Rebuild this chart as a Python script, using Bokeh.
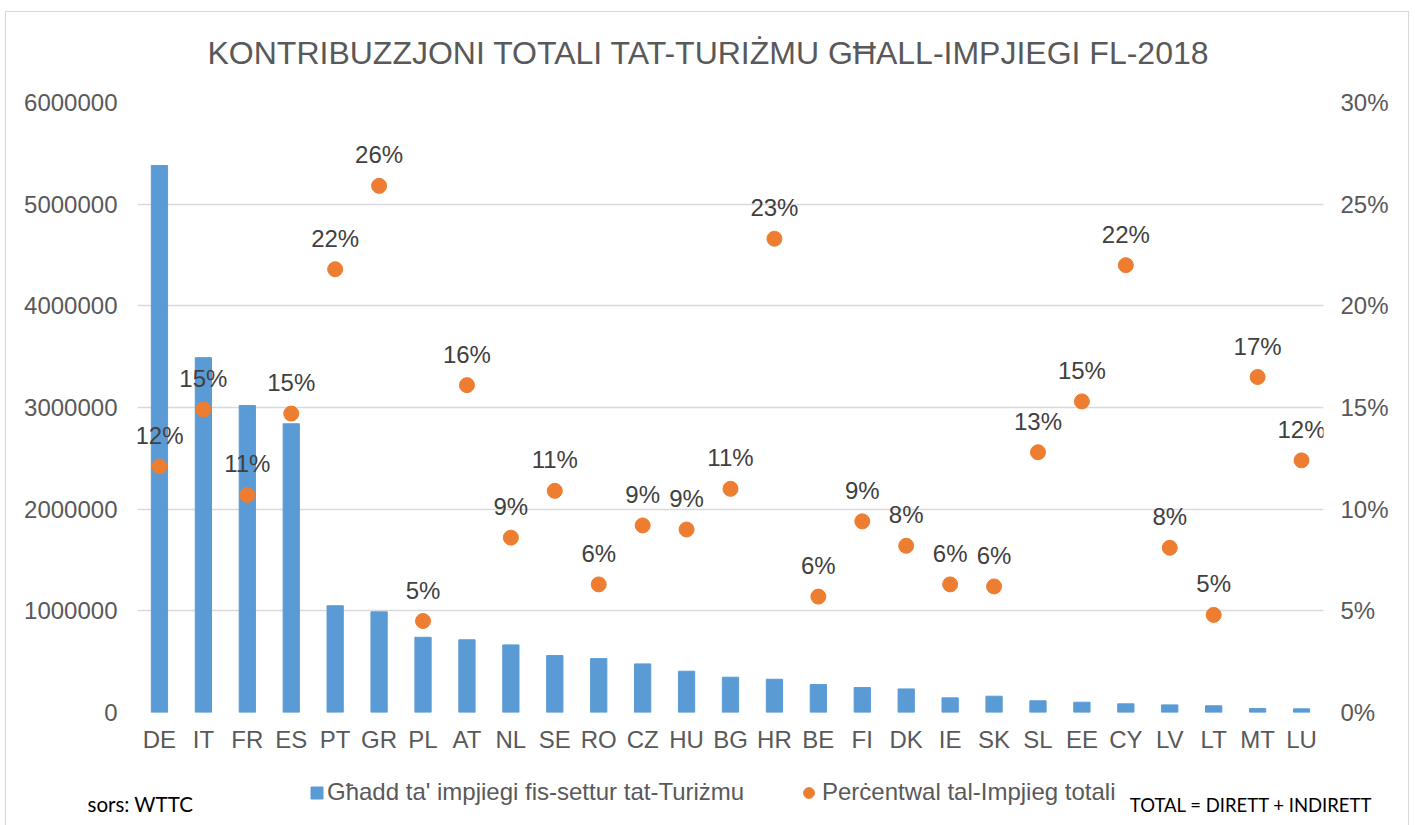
from bokeh.plotting import figure
from bokeh.models import (ColumnDataSource, Range1d, FactorRange, LinearAxis,
                          NumeralTickFormatter, FixedTicker, Legend, LegendItem, Label)
from bokeh.core.properties import value
from bokeh.embed import file_html
from bokeh.resources import INLINE

# ---- data ----
countries = ["DE", "IT", "FR", "ES", "PT", "GR", "PL", "AT", "NL", "SE", "RO", "CZ", "HU", "BG",
             "HR", "BE", "FI", "DK", "IE", "SK", "SL", "EE", "CY", "LV", "LT", "MT", "LU"]
employees = [5380000, 3490000, 3020000, 2840000, 1050000, 990000, 740000, 715000, 665000,
             560000, 530000, 478000, 406000, 347000, 327000, 275000, 245000, 232000, 144000,
             160000, 115000, 101000, 85000, 75000, 66000, 39000, 36000]
pct_total = [12.1, 14.9, 10.7, 14.7, 21.8, 25.9, 4.5, 16.1, 8.6, 10.9, 6.3, 9.2, 9.0, 11.0,
             23.3, 5.7, 9.4, 8.2, 6.3, 6.2, 12.8, 15.3, 22.0, 8.1, 4.8, 16.5, 12.4]
left_ticks = [0, 1000000, 2000000, 3000000, 4000000, 5000000, 6000000]
right_ticks = [0, 5, 10, 15, 20, 25, 30]

title_text = "KONTRIBUZZJONI TOTALI TAT-TURIŻMU GĦALL-IMPJIEGI FL-2018"
bar_label = "Għadd ta' impjiegi fis-settur tat-Turiżmu"
dot_label = "Perċentwal tal-Impjieg totali"
source_text = "sors: WTTC"
note_text = "TOTAL = DIRETT + INDIRETT"

BLUE = "#5B9BD5"
ORANGE = "#ED7D31"
FONT = "Liberation Sans"
GREY = "#595959"
FS = "24px"
EDGE = "#d9d9d9"
LINE = "linear-gradient(%s, %s)" % (EDGE, EDGE)

src = ColumnDataSource(dict(
    cat=countries,
    emp=employees,
    pct=[v / 100 for v in pct_total],
    lbl=["%d%%" % int(v + 0.5) for v in pct_total],
))

W = 1404                   # chart box spans page x 5 .. 1409
H_MAIN, H_FOOT = 770, 55

# ---------------- main chart ----------------
p = figure(width=W, height=H_MAIN, x_range=FactorRange(factors=countries),
           y_range=Range1d(left_ticks[0], left_ticks[-1]),
           output_backend="svg", toolbar_location=None,
           min_border_left=132, min_border_right=86, min_border_top=101, min_border_bottom=58)
p.margin = (0, 0, 0, 5)
p.border_fill_alpha = 0
p.styles = {"background": "%s 0 11px / 100%% 1px no-repeat, %s 0 11px / 1px 100%% no-repeat, "
                          "%s 100%% 11px / 1px 100%% no-repeat" % (LINE, LINE, LINE)}
p.extra_y_ranges = {"pct": Range1d(right_ticks[0] / 100, right_ticks[-1] / 100)}
p.outline_line_color = None

p.title.text = title_text
p.title.align = "left"
p.title.offset = 70
p.title.standoff = 64
p.title.text_font = FONT
p.title.text_font_size = "32px"
p.title.text_font_style = "normal"
p.title.text_color = GREY

p.xgrid.grid_line_color = None
p.ygrid.grid_line_color = EDGE
p.ygrid.grid_line_width = 1.5

p.yaxis[0].ticker = FixedTicker(ticks=left_ticks)
p.yaxis[0].formatter = NumeralTickFormatter(format="0")
p.yaxis[0].major_label_standoff = 14

right_axis = LinearAxis(y_range_name="pct", ticker=FixedTicker(ticks=[t / 100 for t in right_ticks]),
                        formatter=NumeralTickFormatter(format="0%"))
right_axis.major_label_standoff = 11
p.add_layout(right_axis, "right")

p.xaxis[0].major_label_standoff = 7

for ax in [p.yaxis[0], right_axis, p.xaxis[0]]:
    ax.axis_line_color = None
    ax.major_tick_line_color = None
    ax.minor_tick_line_color = None
    ax.major_label_text_font = FONT
    ax.major_label_text_font_size = FS
    ax.major_label_text_color = GREY

p.vbar(x="cat", top="emp", width=0.37, source=src, color=BLUE)
p.scatter(x="cat", y="pct", y_range_name="pct", size=15, color=ORANGE, source=src)
p.text(x="cat", y="pct", text="lbl", y_range_name="pct", y_offset=-31, source=src,
       text_align="center", text_baseline="middle", text_font=value(FONT),
       text_font_size=FS, text_color="#404040")

# ---------------- footer: legend + notes ----------------
# the same series against a range far above them, so they stay out of view and only feed the legend
f = figure(width=W, height=H_FOOT, x_range=FactorRange(factors=countries), y_range=Range1d(1e7, 2e7),
           output_backend="svg", toolbar_location=None, x_axis_type=None, y_axis_type=None,
           min_border=0)
f.margin = (0, 0, 0, 5)
f.border_fill_alpha = 0
f.background_fill_alpha = 0
f.styles = {"background": "%s 0 0 / 1px 100%% no-repeat, %s 100%% 0 / 1px 100%% no-repeat"
                          % (LINE, LINE)}
f.outline_line_color = None
f.xgrid.grid_line_color = None
f.ygrid.grid_line_color = None
leg_bar = f.vbar(x="cat", top="emp", width=0.37, source=src, color=BLUE)
leg_dot = f.scatter(x="cat", y="pct", size=15, source=src, color=ORANGE)

common = dict(orientation="horizontal", border_line_color=None, background_fill_alpha=0,
              label_text_font=FONT, label_text_font_size=FS, label_text_color=GREY,
              padding=0, margin=0, label_height=27)
leg1 = Legend(items=[LegendItem(label=bar_label, renderers=[leg_bar])],
              location=(304, 19), glyph_width=15, glyph_height=15, label_standoff=3, **common)
leg2 = Legend(items=[LegendItem(label=dot_label, renderers=[leg_dot])],
              location=(790, 19), glyph_width=27, glyph_height=27, label_standoff=0, **common)
f.add_layout(leg1, "center")
f.add_layout(leg2, "center")

f.add_layout(Label(x=82, y=22, x_units="screen", y_units="screen", text=source_text,
                   text_align="left", text_baseline="middle",
                   text_font="Lato", text_font_size="20.5px", text_color="black"))
f.add_layout(Label(x=1367, y=21, x_units="screen", y_units="screen", text=note_text,
                   text_align="right", text_baseline="middle",
                   text_font="Lato", text_font_size="18.5px", text_color="black"))

open("out.html", "w").write(file_html([p, f], INLINE))
